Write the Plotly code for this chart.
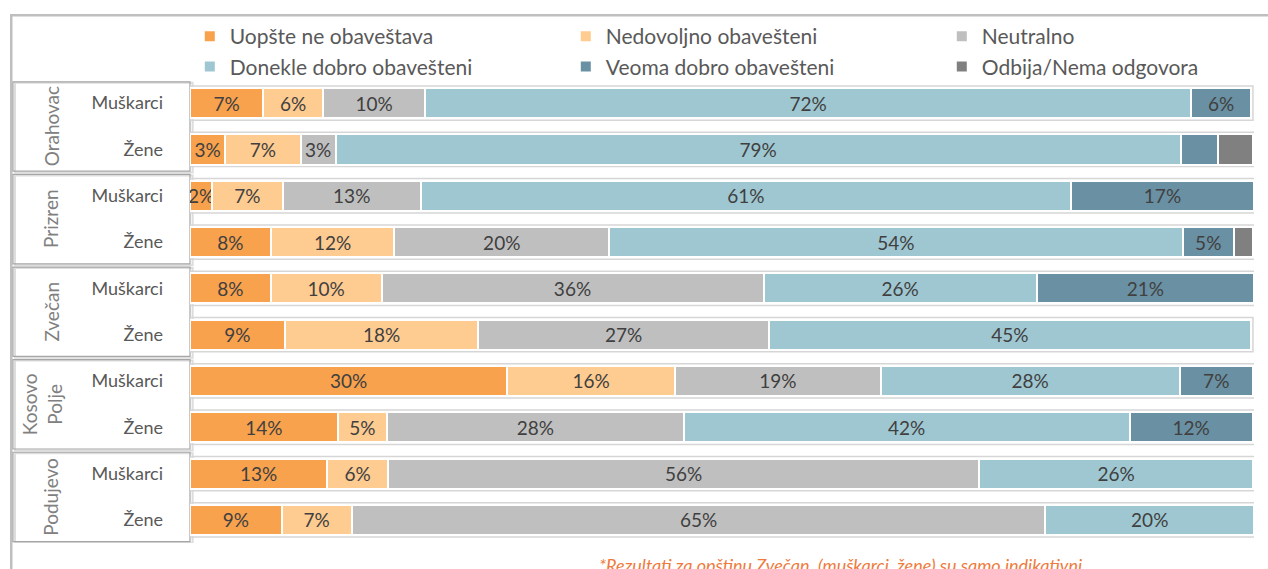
import plotly.graph_objects as go

# ---------------- data ----------------
groups = ["Orahovac", "Prizren", "Zvečan", "Kosovo<br>Polje", "Podujevo"]
genders = ["Muškarci", "Žene"] * 5

series_names = [
    "Uopšte ne obaveštava",
    "Nedovoljno obavešteni",
    "Neutralno",
    "Donekle dobro obavešteni",
    "Veoma dobro obavešteni",
    "Odbija/Nema odgovora",
]
series_colors = ["#F9A24D", "#FECB90", "#BFBFBF", "#9FC7D1", "#6A90A3", "#808080"]

uopste = [6.9, 3.3, 2.1, 7.6, 7.6, 8.9, 29.8, 13.9, 12.9, 8.6]
nedovoljno = [5.6, 7.1, 6.6, 11.6, 10.4, 18.2, 15.8, 4.6, 5.7, 6.6]
neutralno = [9.6, 3.3, 13.0, 20.2, 35.9, 27.3, 19.3, 27.9, 55.6, 65.2]
donekle = [72.0, 79.4, 61.1, 53.9, 25.7, 45.3, 28.1, 41.9, 25.7, 19.6]
veoma = [5.6, 3.5, 17.2, 4.8, 20.4, None, 6.9, 11.6, None, None]
odbija = [None, 3.3, None, 1.8, None, None, None, None, None, None]

uopste_lbl = ["7%", "3%", "2%", "8%", "8%", "9%", "30%", "14%", "13%", "9%"]
nedovoljno_lbl = ["6%", "7%", "7%", "12%", "10%", "18%", "16%", "5%", "6%", "7%"]
neutralno_lbl = ["10%", "3%", "13%", "20%", "36%", "27%", "19%", "28%", "56%", "65%"]
donekle_lbl = ["72%", "79%", "61%", "54%", "26%", "45%", "28%", "42%", "26%", "20%"]
veoma_lbl = ["6%", "", "17%", "5%", "21%", "", "7%", "12%", "", ""]
odbija_lbl = ["", "", "", "", "", "", "", "", "", ""]

footnote = "*Rezultati za opštinu Zvečan  (muškarci, žene) su samo indikativni"

series_values = [uopste, nedovoljno, neutralno, donekle, veoma, odbija]
series_labels = [uopste_lbl, nedovoljno_lbl, neutralno_lbl, donekle_lbl, veoma_lbl, odbija_lbl]

FONT = "Lato"
rows = list(range(len(genders)))

fig = go.Figure()
for name, color, vals, lbls in zip(series_names, series_colors, series_values, series_labels):
    fig.add_trace(go.Bar(
        name=name,
        y=rows,
        x=vals,
        orientation="h",
        marker=dict(color=color, line=dict(color="white", width=2)),
        text=lbls,
        textposition="inside",
        insidetextanchor="middle",
        constraintext="none",
        textangle=0,
        textfont=dict(family=FONT, size=19, color="#404040"),
        hoverinfo="skip",
    ))

shapes = []
# row outlines
for i in rows:
    total = sum(v[i] for v in series_values if v[i] is not None)
    shapes.append(dict(type="rect", xref="x", yref="y", x0=0, x1=total + 0.2,
                       y0=i - 0.37, y1=i + 0.37, layer="below",
                       line=dict(color="#D6D6D6", width=1.5), fillcolor="rgba(0,0,0,0)"))

# outer frame
shapes.append(dict(type="rect", xref="paper", yref="paper", x0=-0.168, x1=1.03,
                   y0=-0.08, y1=1.14, line=dict(color="#BFBFBF", width=2.5),
                   fillcolor="rgba(0,0,0,0)", layer="below"))

annotations = []
for k, g in enumerate(groups):
    # shadow + box
    shapes.append(dict(type="rect", xref="paper", yref="y", x0=-0.1645, x1=0.0025,
                       y0=2 * k - 0.44, y1=2 * k + 1.5, line=dict(color="#DDDDDD", width=2),
                       fillcolor="rgba(0,0,0,0)", layer="below"))
    shapes.append(dict(type="rect", xref="paper", yref="y", x0=-0.1664, x1=0,
                       y0=2 * k - 0.46, y1=2 * k + 1.47, line=dict(color="#A6A6A6", width=1.2),
                       fillcolor="rgba(0,0,0,0)", layer="below"))
    xc = -0.1306 if "<br>" not in g else -0.1390
    annotations.append(dict(text=g, xref="paper", yref="y", x=xc, y=2 * k + 0.5,
                            xanchor="center", yanchor="middle",
                            textangle=-90, showarrow=False,
                            font=dict(family=FONT, size=19, color="#808080")))

annotations.append(dict(text=footnote, xref="paper", yref="paper", x=0.3825, y=-0.048,
                        xanchor="left", yanchor="middle", showarrow=False,
                        font=dict(family=FONT, size=18, color="#EE7B3E", style="italic")))

fig.update_layout(
    barmode="stack",
    bargap=0.35,
    width=1268, height=569,
    margin=dict(l=190, r=14, t=80, b=26, autoexpand=False),
    paper_bgcolor="white",
    plot_bgcolor="white",
    font=dict(family=FONT, color="#595959"),
    showlegend=True,
    legend=dict(orientation="h", x=-0.0002, y=1.138, xanchor="left", yanchor="top",
                entrywidth=331, entrywidthmode="pixels", itemwidth=30,
                font=dict(family=FONT, size=21, color="#595959"),
                traceorder="normal", bgcolor="rgba(0,0,0,0)"),
    xaxis=dict(range=[0, 100], showgrid=False, zeroline=False, showticklabels=False,
               showline=False, fixedrange=True),
    yaxis=dict(tickmode="array", tickvals=rows, ticktext=genders,
               range=[9.5, -0.5], autorange=False, showgrid=False, zeroline=False,
               showline=False, ticks="", ticklabelstandoff=26,
               tickfont=dict(family=FONT, size=18, color="#595959")),
    shapes=shapes,
    annotations=annotations,
)

fig.write_html("out.html", config={"displayModeBar": False},
               post_script="document.body.style.margin='0';")
